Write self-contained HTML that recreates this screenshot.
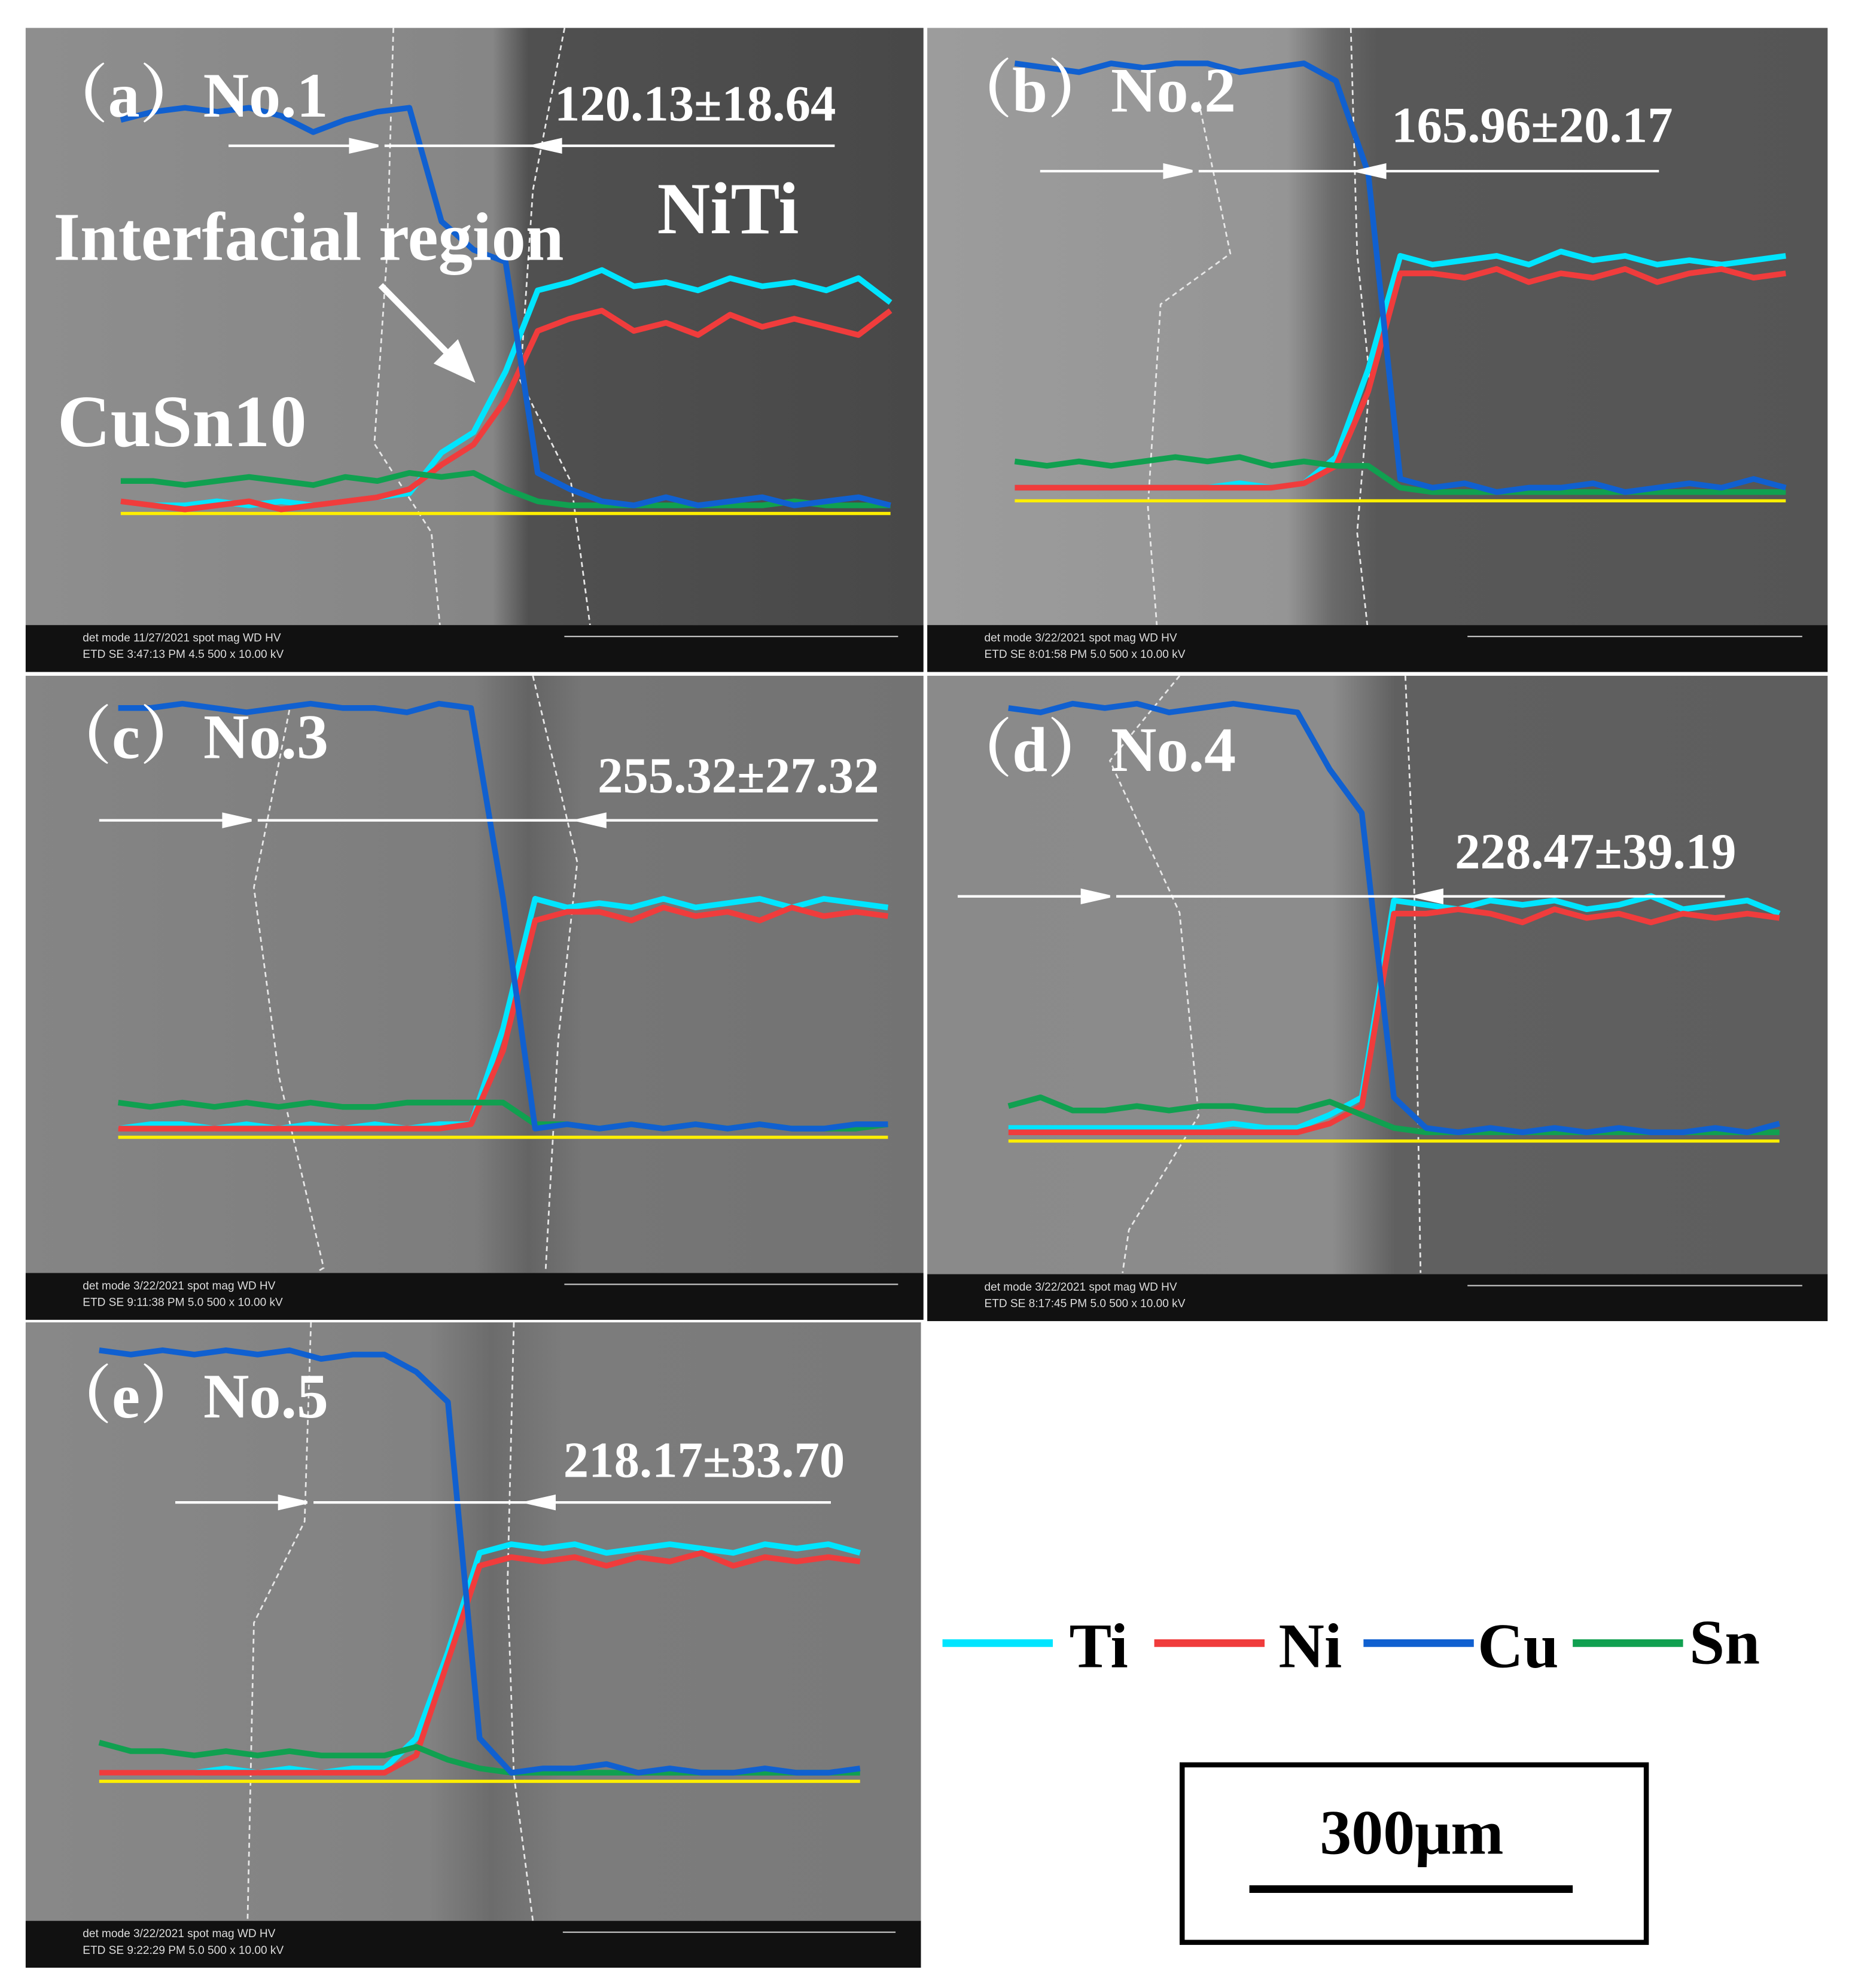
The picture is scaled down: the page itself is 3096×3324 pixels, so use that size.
<!DOCTYPE html>
<html><head><meta charset="utf-8"><style>
html,body{margin:0;padding:0;background:#fff}
svg{display:block}
text{font-family:"Liberation Serif",serif}
.lab{font-family:"Liberation Serif","Noto Serif CJK SC",serif;font-weight:bold;fill:#fff}
.info{font-family:"Liberation Sans",sans-serif;font-size:9px;fill:#ddd}
</style></head><body>
<svg id="fig" width="3096" height="3324" viewBox="0 0 1460 1568" xmlns="http://www.w3.org/2000/svg">
<defs>
<linearGradient id="ga" x1="0" x2="1"><stop offset="0" stop-color="#8e8e8e"/><stop offset="0.52" stop-color="#868686"/><stop offset="0.56" stop-color="#505050"/><stop offset="1" stop-color="#484848"/></linearGradient>
<linearGradient id="gb" x1="0" x2="1"><stop offset="0" stop-color="#9c9c9c"/><stop offset="0.4" stop-color="#959595"/><stop offset="0.45" stop-color="#6a6a6a"/><stop offset="0.5" stop-color="#585858"/><stop offset="1" stop-color="#555"/></linearGradient>
<linearGradient id="gc" x1="0" x2="1"><stop offset="0" stop-color="#858585"/><stop offset="0.5" stop-color="#7d7d7d"/><stop offset="0.56" stop-color="#646464"/><stop offset="0.62" stop-color="#767676"/><stop offset="1" stop-color="#737373"/></linearGradient>
<linearGradient id="gd" x1="0" x2="1"><stop offset="0" stop-color="#8a8a8a"/><stop offset="0.45" stop-color="#8c8c8c"/><stop offset="0.52" stop-color="#606060"/><stop offset="1" stop-color="#5e5e5e"/></linearGradient>
<linearGradient id="ge" x1="0" x2="1"><stop offset="0" stop-color="#888"/><stop offset="0.45" stop-color="#828282"/><stop offset="0.52" stop-color="#6c6c6c"/><stop offset="0.6" stop-color="#7c7c7c"/><stop offset="1" stop-color="#7a7a7a"/></linearGradient>
</defs>
<g id="panels"></g>
<g>
<line x1="743" y1="1296" x2="830" y2="1296" stroke="#00e5ff" stroke-width="6"/>
<text x="843" y="1315" font-size="50" font-weight="bold">Ti</text>
<line x1="910" y1="1296" x2="997" y2="1296" stroke="#f03c3c" stroke-width="6"/>
<text x="1008" y="1315" font-size="50" font-weight="bold">Ni</text>
<line x1="1075" y1="1296" x2="1162" y2="1296" stroke="#1060d0" stroke-width="6"/>
<text x="1165" y="1315" font-size="50" font-weight="bold">Cu</text>
<line x1="1240" y1="1296" x2="1327" y2="1296" stroke="#10a050" stroke-width="6"/>
<text x="1332" y="1312" font-size="50" font-weight="bold">Sn</text>
</g>
<g>
<rect x="932" y="1392" width="366" height="140" fill="#fff" stroke="#000" stroke-width="4"/>
<text x="1113" y="1462" font-size="50" font-weight="bold" text-anchor="middle">300μm</text>
<line x1="985" y1="1490" x2="1240" y2="1490" stroke="#000" stroke-width="6"/>
</g>
</svg>
<script>
// panel data: percent of max (0 = baseline, 100 = Cu plateau)
const panelLabels=["（a）No.1","（b）No.2","（c）No.3","（d）No.4","（e）No.5"];
const widthLabels=["120.13±18.64","165.96±20.17","255.32±27.32","228.47±39.19","218.17±33.70"];
const cuA=[97,99,100,99,100,98,94,97,99,100,72,65,62,10,6,3,2,4,2,3,4,2,3,4,2];
const tiA=[3,2,2,3,2,3,2,3,4,5,15,20,35,55,57,60,56,57,55,58,56,57,55,58,52];
const niA=[3,2,1,2,3,1,2,3,4,6,12,17,28,45,48,50,45,47,44,49,46,48,46,44,50];
const snA=[8,8,7,8,9,8,7,9,8,10,9,10,6,3,2,2,2,2,2,2,2,3,2,2,2];
const cuB=[100,99,98,100,99,100,100,98,99,100,96,75,5,3,4,2,3,3,4,2,3,4,3,5,3];
const tiB=[3,3,3,3,3,3,3,4,3,4,10,30,56,54,55,56,54,57,55,56,54,55,54,55,56];
const niB=[3,3,3,3,3,3,3,3,3,4,8,25,52,52,51,53,50,52,51,53,50,52,53,51,52];
const snB=[9,8,9,8,9,10,9,10,8,9,8,8,3,2,2,2,2,2,2,2,2,2,2,2,2];
const cuC=[99,99,100,99,98,99,100,99,99,98,100,99,55,2,3,2,3,2,3,2,3,2,2,3,3];
const tiC=[2,3,3,2,3,2,3,2,3,2,3,3,25,55,53,54,53,55,53,54,55,53,55,54,53];
const niC=[2,2,2,2,2,2,2,2,2,2,2,3,20,50,52,52,50,53,51,52,50,53,51,52,51];
const snC=[8,7,8,7,8,7,8,7,7,8,8,8,8,3,3,2,3,2,3,2,3,2,2,2,3];
const cuD=[99,98,100,99,100,98,99,100,99,98,85,75,10,3,2,3,2,3,2,3,2,2,3,2,4];
const tiD=[3,3,3,3,3,3,3,4,3,3,6,10,55,54,53,55,54,55,53,54,56,53,54,55,52];
const niD=[2,2,2,2,2,2,2,2,2,2,4,8,52,52,53,52,50,53,51,52,50,52,51,52,51];
const snD=[8,10,7,7,8,7,8,8,7,7,9,6,3,2,2,2,2,2,2,2,2,2,2,2,2];
const cuE=[100,99,100,99,100,99,100,98,99,99,95,88,10,2,3,3,4,2,3,2,2,3,2,2,3];
const tiE=[2,2,2,2,3,2,3,2,3,3,10,30,53,55,54,55,53,54,55,54,53,55,54,55,53];
const niE=[2,2,2,2,2,2,2,2,2,2,6,28,50,52,51,52,50,52,51,53,50,52,51,52,51];
const snE=[9,7,7,6,7,6,7,6,6,6,8,5,3,2,2,2,2,2,2,2,2,2,2,2,2];
const seriesSets=[[tiA,niA,cuA,snA],[tiB,niB,cuB,snB],[tiC,niC,cuC,snC],[tiD,niD,cuD,snD],[tiE,niE,cuE,snE]];
const colors=["#00e5ff","#f03c3c","#1060d0","#10a050"];
const names=["ti-line","ni-line","cu-line","sn-line"];
const dates=["11/27/2021","3/22/2021","3/22/2021","3/22/2021","3/22/2021"];
const times=["3:47:13 PM","8:01:58 PM","9:11:38 PM","8:17:45 PM","9:22:29 PM"];
const P=[
 {x:20,y:22,w:708,h:508,g:"ga",x0:95,x1:702,yb:405,yt:85,lx:35,ly:92,wx:548,wy:95,ay:115,a1:180,a2:298,a3:420,a4:658,d1:[[310,22],[305,200],[295,350],[340,420],[350,530]],d2:[[445,22],[420,150],[410,300],[450,380],[470,530]]},
 {x:731,y:22,w:710,h:508,g:"gb",x0:800,x1:1408,yb:395,yt:50,lx:748,ly:88,wx:1208,wy:112,ay:135,a1:820,a2:940,a3:1070,a4:1308,d1:[[945,80],[970,200],[915,240],[905,400],[912,493]],d2:[[1065,22],[1070,200],[1080,300],[1070,420],[1078,493]]},
 {x:20,y:533,w:708,h:508,g:"gc",x0:93,x1:700,yb:897,yt:555,lx:38,ly:598,wx:582,wy:625,ay:647,a1:78,a2:198,a3:455,a4:692,d1:[[228,560],[200,700],[220,850],[255,1000],[250,1003]],d2:[[420,533],[455,680],[440,820],[430,1003]]},
 {x:731,y:533,w:710,h:509,g:"gd",x0:795,x1:1403,yb:900,yt:555,lx:748,ly:608,wx:1258,wy:685,ay:707,a1:755,a2:875,a3:1115,a4:1360,d1:[[930,533],[875,600],[930,720],[945,880],[890,970],[885,1004]],d2:[[1108,533],[1115,700],[1120,1004]]},
 {x:20,y:1043,w:706,h:509,g:"ge",x0:78,x1:678,yb:1405,yt:1065,lx:38,ly:1118,wx:555,wy:1165,ay:1185,a1:138,a2:242,a3:415,a4:655,d1:[[245,1043],[240,1200],[200,1280],[195,1515]],d2:[[405,1043],[400,1250],[405,1400],[420,1515]]}
];
const NS="http://www.w3.org/2000/svg";
const root=document.getElementById('panels');
function mk(t,a,p){const e=document.createElementNS(NS,t);for(const k in a)e.setAttribute(k,a[k]);p.appendChild(e);return e;}
P.forEach((p,i)=>{
 const g=mk('g',{},root);
 
 
 const bg=mk('rect',{x:p.x,y:p.y,width:p.w,height:p.h-37,fill:'url(#'+p.g+')'},g);
 
 
 [p.d1,p.d2].forEach(d=>{
  const c=mk('polyline',{points:d.map(q=>q.join(',')).join(' '),fill:'none',stroke:'#e8e8e8','stroke-width':1.3,'stroke-dasharray':'4,3'},g);
  
  
 });
 const bar=mk('rect',{x:p.x,y:p.y+p.h-37,width:p.w,height:37,fill:'#111'},g);
 
 
 const bt=mk('text',{x:p.x+45,y:p.y+p.h-11,class:'info'},g);
 bt.textContent='ETD   SE   '+times[i]+'   '+(i==0?'4.5':'5.0')+'   500 x   10.00 kV';
 
 
 const bt2=mk('text',{x:p.x+45,y:p.y+p.h-24,class:'info'},g);
 bt2.textContent='det  mode  '+dates[i]+'  spot  mag  WD  HV';
 
 
 const sb=mk('line',{x1:p.x+p.w*0.6,y1:p.y+p.h-28,x2:p.x+p.w-20,y2:p.y+p.h-28,stroke:'#ccc','stroke-width':1},g);
 
 
 const yl=mk('line',{x1:p.x0,y1:p.yb,x2:p.x1,y2:p.yb,stroke:'#ffee00','stroke-width':2.5},g);
 
 
 const xs=j=>p.x0+(p.x1-p.x0)*j/24;
 const ys=v=>p.yb-(p.yb-p.yt)*v/100;
 [0,1,3,2].forEach(k=>{
  const arr=seriesSets[i][k];
  const pl=mk('polyline',{points:arr.map((v,j)=>xs(j)+','+ys(v)).join(' '),fill:'none',stroke:colors[k],'stroke-width':4.5,'stroke-linejoin':'round'},g);
  
  
 });
 const ar=mk('g',{stroke:'#fff','stroke-width':2,fill:'#fff'},g);
 
 
 mk('line',{x1:p.a1,y1:p.ay,x2:p.a2,y2:p.ay},ar);
 mk('polygon',{points:`${p.a2},${p.ay} ${p.a2-22},${p.ay-5} ${p.a2-22},${p.ay+5}`},ar);
 mk('line',{x1:p.a2+5,y1:p.ay,x2:p.a4,y2:p.ay},ar);
 mk('polygon',{points:`${p.a3},${p.ay} ${p.a3+22},${p.ay-5} ${p.a3+22},${p.ay+5}`},ar);
 const lt=mk('text',{x:p.lx,y:p.ly,class:'lab','font-size':50},g);
 lt.textContent=panelLabels[i];
 
 
 const wt=mk('text',{x:p.wx,y:p.wy,class:'lab','font-size':40,'text-anchor':'middle'},g);
 wt.textContent=widthLabels[i];
 
 
});
const ga=root.children[0];
[["Interfacial region",42,205,54],["NiTi",518,184,58],["CuSn10",45,352,58]].forEach(t=>{
 const e=mk('text',{x:t[1],y:t[2],class:'lab','font-size':t[3]},ga);
 e.textContent=t[0];
 
 
});
const arw=mk('g',{stroke:'#fff','stroke-width':5,fill:'#fff'},ga);


mk('line',{x1:300,y1:225,x2:358,y2:284},arw);
mk('polygon',{points:'370,297 346,286 360,272'},arw);
</script>
</body></html>
